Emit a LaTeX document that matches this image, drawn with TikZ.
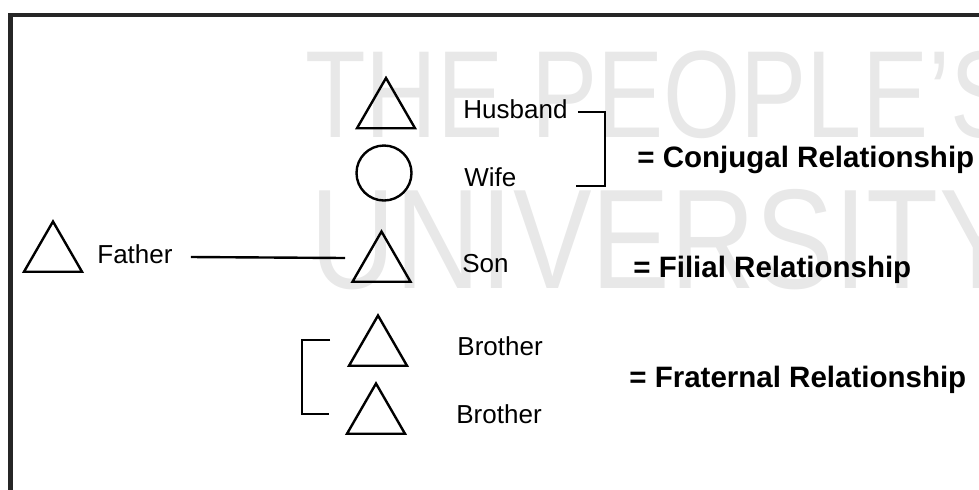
\documentclass[tikz,border=0pt]{standalone}
\usepackage{fontspec}
\setmainfont{Liberation Sans}
\usetikzlibrary{shapes.geometric}
\begin{document}
\begin{tikzpicture}[x=0.5pt,y=-0.5pt,
    male/.style={draw,regular polygon,regular polygon sides=3,minimum size=33.5pt,inner sep=0pt,line width=1.2pt},
    female/.style={draw,circle,minimum size=27.5pt,inner sep=0pt,line width=1.2pt},
    kin/.style={anchor=base west,inner sep=0pt,font=\fontsize{13}{15}\selectfont},
    rel/.style={anchor=base west,inner sep=0pt,font=\fontsize{14.75}{17}\selectfont\bfseries},
    link/.style={line width=1.2pt}]
  \useasboundingbox (0,0) rectangle (979,489);
  % watermark
  \node[anchor=base west,inner sep=0pt,text=black!9,xscale=0.8,font=\fontsize{62}{62}\selectfont] (wmtop) at (305,137) {THE PEOPLE’S};
  \node[anchor=base west,inner sep=0pt,text=black!9,xscale=0.83,font=\fontsize{71}{71}\selectfont] (wmbot) at (310,288) {UNIVERSITY};
  % frame
  \draw[line width=2.25pt,black!85] (10.5,500) -- (10.5,15) -- (995,15);
  % persons
  \node[male] (husband) at (386,111.5) {};
  \node[female] (wife) at (384,173) {};
  \node[male] (father) at (53,255) {};
  \node[male] (son) at (381.5,265) {};
  \node[male] (brothera) at (378,349) {};
  \node[male] (brotherb) at (376,417) {};
  % labels
  \node[kin] (husbandlbl) at (463,118) {Husband};
  \node[kin] (wifelbl) at (464,186) {Wife};
  \node[kin] (fatherlbl) at (97,263) {Father};
  \node[kin] (sonlbl) at (462,272) {Son};
  \node[kin] (brotheralbl) at (457,355) {Brother};
  \node[kin] (brotherblbl) at (456,423) {Brother};
  \node[rel] (conjugal) at (637,167) {= Conjugal Relationship};
  \node[rel] (filial) at (633,277) {= Filial Relationship};
  \node[rel] (fraternal) at (629,387) {= Fraternal Relationship};
  % relations
  \draw[link] ([shift={(10,-6)}]husbandlbl.base east) -| ++(27,74) -- ++(-29,0);
  \draw[link] ([shift={(18,-6)}]fatherlbl.base east) -- ([shift={(-36.5,-7)}]son.center);
  \draw[link] ([shift={(-48,-9)}]brothera.center) -- ++(-28,0) |- ([shift={(-47,-3)}]brotherb.center);
\end{tikzpicture}
\end{document}
